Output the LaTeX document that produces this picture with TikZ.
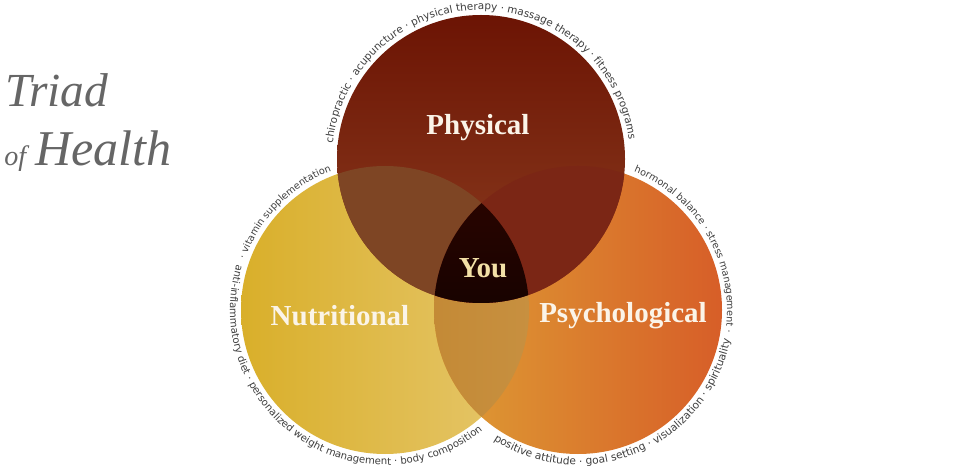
\documentclass[tikz,border=0pt]{standalone}
\usepackage{fontspec}
\setmainfont{Liberation Serif}
\newfontfamily\arcfont{DejaVu Sans}
\usetikzlibrary{decorations.text}

\definecolor{phystop}{HTML}{6C1404}
\definecolor{physbot}{HTML}{8C3E20}
\definecolor{nutleft}{HTML}{D9AF2A}
\definecolor{nutright}{HTML}{E6C76E}
\definecolor{psyleft}{HTML}{DE9E34}
\definecolor{psymid}{HTML}{DB7A2C}
\definecolor{psyright}{HTML}{D75E28}
\definecolor{pnover}{HTML}{7E4524}
\definecolor{ppover}{HTML}{7B2615}
\definecolor{npover}{HTML}{C48A36}
\definecolor{youtop}{HTML}{2E0500}
\definecolor{labelwhite}{HTML}{FBF4E8}
\definecolor{youtext}{HTML}{F3E0A6}
\definecolor{arcgray}{HTML}{3E3E3E}
\definecolor{titlegray}{HTML}{666666}

\newcommand\crad{144}

\tikzset{
  mainlabel/.style={font=\fontsize{16.5}{18}\selectfont\bfseries, text=labelwhite},
  titletext/.style={font=\itshape, text=titlegray, inner sep=0pt, anchor=base west},
  arctext/.style 2 args={decorate, decoration={text along path, text align=left,
    text={|\arcfont\fontsize{#1}{7}\selectfont\color{arcgray}|#2}}}
}

\begin{document}
\begin{tikzpicture}[x=0.02cm,y=0.02cm]
  \fill[white] (0,0) rectangle (960,470);
  \useasboundingbox (0,0) rectangle (960,470);

  \coordinate (phys) at (481,311);
  \coordinate (nutr) at (385,160);
  \coordinate (psyc) at (578,160);

  % the three circles
  \shade[left color=nutleft, right color=nutright] (nutr) circle[radius=\crad];
  \shade[left color=psyleft, middle color=psymid, right color=psyright] (psyc) circle[radius=\crad];
  \begin{scope}
    \clip (nutr) circle[radius=\crad];
    \shade[left color=npover, right color=npover!85!white] (psyc) circle[radius=\crad];
  \end{scope}
  \shade[top color=phystop, bottom color=physbot] (phys) circle[radius=\crad];

  % overlaps with the physical circle
  \begin{scope}
    \clip (phys) circle[radius=\crad];
    \fill[pnover] (nutr) circle[radius=\crad];
    \fill[ppover] (psyc) circle[radius=\crad];
    \clip (nutr) circle[radius=\crad];
    \shade[top color=youtop, bottom color=black] (psyc) circle[radius=\crad];
  \end{scope}

  % texts round the circles
  \path[arctext={5.95}{chiropractic · acupuncture · physical therapy · massage therapy · fitness programs}]
    ([shift={(174:149)}]phys) arc[start angle=174, end angle=-10, radius=149];
  \path[arctext={5.5}{· vitamin supplementation}]
    ([shift={(160:149)}]nutr) arc[start angle=160, end angle=100, radius=149];
  \path[arctext={5.75}{anti-inflammatory diet · personalized weight management · body composition}]
    ([shift={(163:155)}]nutr) arc[start angle=163, end angle=330, radius=155];
  \path[arctext={5.5}{hormonal balance · stress management ·}]
    ([shift={(68:149)}]psyc) arc[start angle=68, end angle=-20, radius=149];
  \path[arctext={6.05}{positive attitude · goal setting · visualization · spirituality}]
    ([shift={(237:155)}]psyc) arc[start angle=237, end angle=360, radius=155];

  % labels
  \node[mainlabel] (physlabel) at (478,342) {Physical};
  \node[mainlabel] (nutrlabel) at (340,154) {Nutritional};
  \node[mainlabel] (psyclabel) at (623,154) {Psychological};
  \node[mainlabel, text=youtext] (youlabel) at (483,202) {You};

  % title
  \node[titletext, font=\itshape\fontsize{27}{28}\selectfont] (triad) at (5,363) {Triad};
  \node[titletext, font=\itshape\fontsize{16}{17}\selectfont] (of) at (4,304) {of};
  \node[titletext, font=\itshape\fontsize{28.5}{30}\selectfont] (health) at (35,304) {Health};
\end{tikzpicture}
\end{document}
